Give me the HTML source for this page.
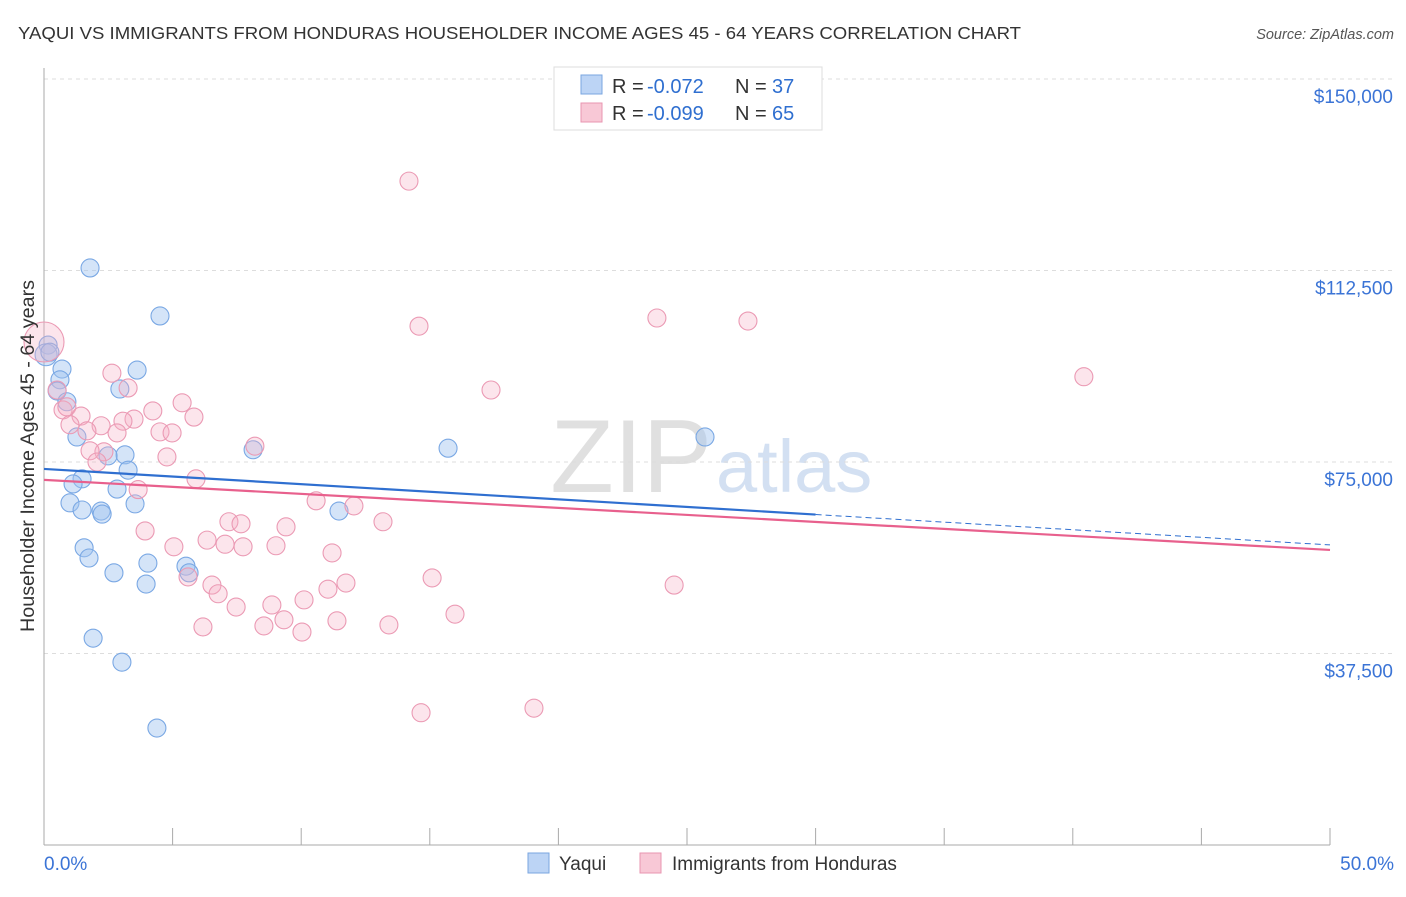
<!DOCTYPE html>
<html><head><meta charset="utf-8"><style>
body{margin:0;background:#fff;font-family:"Liberation Sans",sans-serif;}
svg text{font-family:"Liberation Sans",sans-serif;}
</style></head><body>
<svg id="chart" width="1406" height="892">
<text x="18" y="39" font-size="17.5" fill="#333" textLength="1003" lengthAdjust="spacingAndGlyphs">YAQUI VS IMMIGRANTS FROM HONDURAS HOUSEHOLDER INCOME AGES 45 - 64 YEARS CORRELATION CHART</text>
<text x="1394" y="39" font-size="14.5" fill="#555" font-style="italic" text-anchor="end">Source: ZipAtlas.com</text>
<text x="712" y="492" font-size="104" fill="#e0e0e0" text-anchor="end" font-family="Liberation Serif">ZIP</text>
<text x="716" y="492" font-size="74" fill="#d3e0f2">atlas</text>
<g id="grid"></g><g id="axes"></g><g id="pts"></g><g id="lines"></g>
<text transform="translate(34,456) rotate(-90)" font-size="19" fill="#333" text-anchor="middle" textLength="352" lengthAdjust="spacingAndGlyphs">Householder Income Ages 45 - 64 years</text>
<g>
<rect x="554" y="67" width="268" height="63" fill="#fff" stroke="#ddd"/>
<rect x="581" y="75" width="21" height="19" fill="#bcd4f5" stroke="#7aa6e0"/>
<text x="612" y="93" font-size="20" fill="#333">R =</text>
<text x="647" y="93" font-size="20" fill="#2f6fd0">-0.072</text>
<text x="735" y="93" font-size="20" fill="#333">N =</text>
<text x="772" y="93" font-size="20" fill="#2f6fd0">37</text>
<rect x="581" y="103" width="21" height="19" fill="#f8c8d6" stroke="#e896b0"/>
<text x="612" y="120" font-size="20" fill="#333">R =</text>
<text x="647" y="120" font-size="20" fill="#2f6fd0">-0.099</text>
<text x="735" y="120" font-size="20" fill="#333">N =</text>
<text x="772" y="120" font-size="20" fill="#2f6fd0">65</text>
</g>
<g>
<rect x="528" y="853" width="21" height="20" fill="#bcd4f5" stroke="#7aa6e0"/>
<text x="559" y="870" font-size="19" fill="#333">Yaqui</text>
<rect x="640" y="853" width="21" height="20" fill="#f8c8d6" stroke="#e896b0"/>
<text x="672" y="870" font-size="19" fill="#333">Immigrants from Honduras</text>
</g>
</svg>
<script>
const yTicks=[150000,112500,75000,37500];
const yTickLabels=["$150,000","$112,500","$75,000","$37,500"];
const xTickLabels=["0.0%","50.0%"];
const yaquiX=[1.79,4.51,0.16,0.08,0.23,3.62,0.70,0.62,2.95,0.51,0.89,1.28,8.13,15.71,25.7,3.15,2.49,3.27,1.48,1.13,2.84,1.01,3.54,1.48,2.22,2.26,11.47,1.56,1.75,4.04,5.52,5.64,2.72,3.97,1.91,3.03,4.39];
const yaquiY=[113000,103600,97900,96000,96500,93000,93200,91100,89300,88900,86800,79900,77400,77700,79900,76400,76200,73400,71700,70700,69700,67000,66800,65600,65400,64800,65400,58200,56200,55200,54600,53300,53300,51100,40500,35800,22900];
const hondX=[0,14.19,14.58,23.83,27.37,40.43,17.38,2.64,3.27,0.51,0.74,0.89,5.37,4.23,1.44,3.50,5.83,3.07,1.01,2.22,1.67,2.84,4.51,4.98,8.20,2.33,1.79,4.78,2.06,5.91,3.66,10.58,12.05,3.93,13.18,7.19,7.66,9.41,6.34,5.05,7.04,7.74,9.02,11.20,5.60,15.09,24.50,6.53,11.74,11.04,6.77,10.11,8.86,7.47,9.33,15.98,11.39,6.18,8.55,13.41,10.03,14.66,19.05];
const hondY=[98500,130000,101600,103200,102600,91700,89100,92400,89500,89100,85200,85800,86600,85000,84000,83400,83800,83000,82300,82100,81100,80700,80900,80700,78100,77000,77200,76000,75000,71700,69600,67400,66400,61500,63300,63300,62900,62300,59700,58400,58900,58400,58600,57200,52500,52300,50900,50900,51300,50100,49200,48000,47000,46600,44100,45200,43900,42700,42900,43100,41700,25900,26800];
const yaquiTrend=[73640,58760];
const hondTrend=[71500,57780];
const NS="http://www.w3.org/2000/svg";
const X=p=>44+p/50*1286, Y=v=>79+(150000-v)/37500*191.5;
function mk(parent,tag,attrs){const e=document.createElementNS(NS,tag);for(const k in attrs)e.setAttribute(k,attrs[k]);document.getElementById(parent).appendChild(e);return e;}
yTicks.forEach((v,i)=>{
 const l=mk('grid','line',{x1:44,x2:1394,y1:Y(v),y2:Y(v),stroke:'#ddd','stroke-dasharray':'4,4'});
 
 
 const t=mk('axes','text',{x:1393,y:Y(v)+24,'font-size':19,fill:'#3b74d6','text-anchor':'end'});
 t.textContent=yTickLabels[i];
 
 
});
const ax=mk('axes','line',{x1:44,x2:44,y1:68,y2:845,stroke:'#aaa'});


const bx=mk('axes','line',{x1:44,x2:1330,y1:845,y2:845,stroke:'#aaa'});


for(let i=0;i<=10;i++){const t=mk('axes','line',{x1:X(i*5),x2:X(i*5),y1:828,y2:845,stroke:'#aaa'});
 
 }
[[0,'start',44],[50,'end',1394]].forEach((a,i)=>{const t=mk('axes','text',{x:a[2],y:870,'font-size':19,fill:'#3b74d6','text-anchor':a[1]});
 t.textContent=xTickLabels[i];
 
 });
yaquiX.forEach((x,i)=>{const c=mk('pts','circle',{cx:X(x),cy:Y(yaquiY[i]),r:i==3?11:9,fill:'rgba(160,195,240,0.45)',stroke:'#7aa8e4','stroke-width':1.1});
 
 });
hondX.forEach((x,i)=>{const c=mk('pts','circle',{cx:X(x),cy:Y(hondY[i]),r:i==0?20:9,fill:'rgba(245,175,198,0.33)',stroke:'#eb9ab4','stroke-width':1.1});
 
 });
const bAt=p=>yaquiTrend[0]+(yaquiTrend[1]-yaquiTrend[0])*p/50;
let l1=mk('lines','line',{x1:X(0),y1:Y(bAt(0)),x2:X(30),y2:Y(bAt(30)),stroke:'#2f6fd0','stroke-width':2.2});


let l2=mk('lines','line',{x1:X(30),y1:Y(bAt(30)),x2:X(50),y2:Y(bAt(50)),stroke:'#2f6fd0','stroke-width':1,'stroke-dasharray':'6,4'});


let l3=mk('lines','line',{x1:X(0),y1:Y(hondTrend[0]),x2:X(50),y2:Y(hondTrend[1]),stroke:'#e8608d','stroke-width':2.2});


</script>
</body></html>
